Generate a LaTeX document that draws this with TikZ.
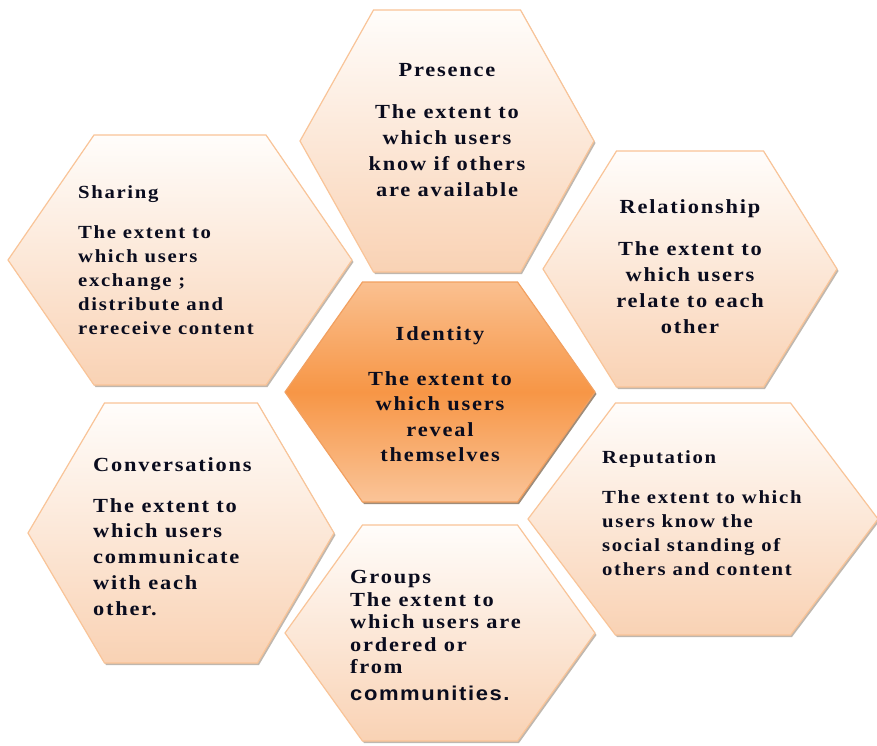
\documentclass[tikz,border=0pt]{standalone}
\usepackage{fontspec}
\setmainfont{Liberation Serif}[FakeStretch=1.12,LetterSpace=9]
\newfontfamily\hexsans{Liberation Sans}[FakeStretch=1.1,LetterSpace=8]
\usetikzlibrary{shadows}

\definecolor{hexedge}{RGB}{249,196,152}
\definecolor{hextop}{RGB}{255,253,251}
\definecolor{hexbottom}{RGB}{249,210,180}
\definecolor{coreedge}{RGB}{242,160,96}
\definecolor{coretop}{RGB}{250,192,144}
\definecolor{coremid}{RGB}{247,150,70}
\definecolor{corebottom}{RGB}{250,196,152}
\definecolor{hextext}{RGB}{10,12,30}

% flat-topped hexagon: [style] centre x, centre y, half width, half height
\newcommand{\hexcell}[5][outer]{%
  \path[#1] ({#2-#4},#3) -- ({#2-#4/2},{#3-#5}) -- ({#2+#4/2},{#3-#5})
    -- ({#2+#4},#3) -- ({#2+#4/2},{#3+#5}) -- ({#2-#4/2},{#3+#5}) -- cycle;}

\begin{document}
\begin{tikzpicture}[x=1pt,y=-1pt,
    outer/.style={top color=hextop,bottom color=hexbottom,draw=hexedge,line width=1.2pt,
      drop shadow={shadow xshift=1.5pt,shadow yshift=-2pt,opacity=.35,fill=black!60!brown}},
    core/.style={top color=coretop,bottom color=corebottom,middle color=coremid,draw=coreedge,line width=1.2pt,
      drop shadow={shadow xshift=1.5pt,shadow yshift=-2pt,opacity=.6,fill=black!50!brown}},
    label/.style={text=hextext,inner sep=0pt},
    big/.style={font=\fontsize{20}{26}\selectfont\bfseries},
    small/.style={font=\fontsize{18.5}{24}\selectfont\bfseries}]

    \fill[white] (0,0) rectangle (877,745);
    \useasboundingbox (0,0) rectangle (877,745);

    % the six outer cells
    \hexcell{447}{141}{147}{131}
    \hexcell{180}{260}{172}{125}
    \hexcell{690}{269}{147}{118}
    \hexcell{703}{519}{175}{116}
    \hexcell{181}{533}{153}{130}
    \hexcell{440}{633}{155}{108}
    % centre cell
    \hexcell[core]{440}{392}{155}{110}

    % texts
    \node[label,big,align=center,anchor=north] (presence) at (447,63.5)
      {Presence\\[16pt]The extent to\\which users\\know if others\\are available};
    \node[label,small,align=left,anchor=north west] (sharing) at (78,185.5)
      {Sharing\\[16pt]The extent to\\which users\\exchange ;\\distribute and\\rereceive content};
    \node[label,big,align=center,anchor=north] (relationship) at (690,199.5)
      {Relationship\\[16pt]The extent to\\which users\\relate to each\\other};
    \node[label,align=center,anchor=north,font=\fontsize{20}{25.5}\selectfont\bfseries] (identity) at (440,326.5)
      {Identity\\[19pt]The extent to\\which users\\reveal\\themselves};
    \node[label,small,align=left,anchor=north west] (reputation) at (602,450.5)
      {Reputation\\[16pt]The extent to which\\users know the\\social standing of\\others and content};
    \node[label,align=left,anchor=north west,font=\fontsize{20}{25.7}\selectfont\bfseries] (conversations) at (93,457.5)
      {Conversations\\[15pt]The extent to\\which users\\communicate\\with each\\other.};
    \node[label,align=left,anchor=north west,font=\fontsize{20}{22.5}\selectfont\bfseries] (groups) at (350,570.5)
      {Groups\\The extent to\\which users are\\ordered or\\from\\[4pt]{\hexsans communities.}};
\end{tikzpicture}
\end{document}
